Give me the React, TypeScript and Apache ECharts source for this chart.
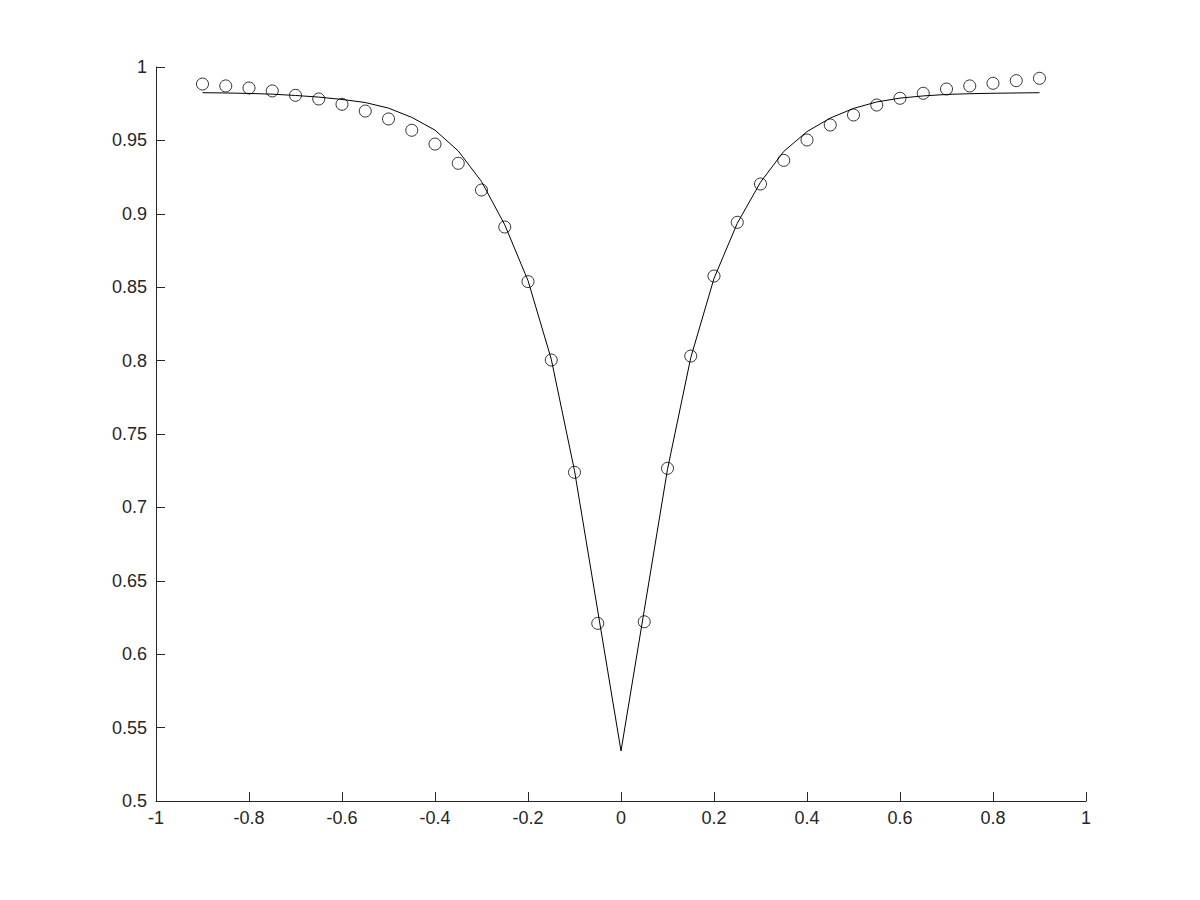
import React, { useEffect, useRef } from "react";
import * as echarts from "echarts";

const measuredX = [
  -0.9, -0.85, -0.8, -0.75, -0.7, -0.65, -0.6, -0.55, -0.5, -0.45, -0.4, -0.35,
  -0.3, -0.25, -0.2, -0.15, -0.1, -0.05, 0.05, 0.1, 0.15, 0.2, 0.25, 0.3, 0.35,
  0.4, 0.45, 0.5, 0.55, 0.6, 0.65, 0.7, 0.75, 0.8, 0.85, 0.9,
];
const measuredY = [
  0.9884, 0.9871, 0.9857, 0.9837, 0.9807, 0.9782, 0.9746, 0.97, 0.9646, 0.9569,
  0.9475, 0.9344, 0.9162, 0.891, 0.8538, 0.8004, 0.7239, 0.621, 0.6221, 0.7266,
  0.8031, 0.8576, 0.8942, 0.9203, 0.9364, 0.9503, 0.9605, 0.9673, 0.9741,
  0.9787, 0.9821, 0.985, 0.9871, 0.9889, 0.9907, 0.9923,
];

const fitX = [
  -0.9, -0.85, -0.8, -0.75, -0.7, -0.65, -0.6, -0.55, -0.5, -0.45, -0.4, -0.35,
  -0.3, -0.25, -0.2, -0.15, -0.1, -0.05, 0, 0.05, 0.1, 0.15, 0.2, 0.25, 0.3,
  0.35, 0.4, 0.45, 0.5, 0.55, 0.6, 0.65, 0.7, 0.75, 0.8, 0.85, 0.9,
];
const fitY = [
  0.9825, 0.9823, 0.982, 0.9815, 0.9806, 0.9795, 0.9779, 0.9758, 0.972, 0.9657,
  0.957, 0.9428, 0.922, 0.8925, 0.8545, 0.801, 0.725, 0.6295, 0.5341, 0.63,
  0.726, 0.802, 0.856, 0.8935, 0.9215, 0.9425, 0.956, 0.9652, 0.9718, 0.9762,
  0.9788, 0.9803, 0.9813, 0.9818, 0.9821, 0.9823, 0.9825,
];

const xMin = -1;
const xMax = 1;
const xStep = 0.2;
const yMin = 0.5;
const yMax = 1;
const yStep = 0.05;

const textColor = "#262626";
const font = "'Liberation Sans', Arial, Helvetica, sans-serif";

export default function App() {
  const ref = useRef<HTMLDivElement>(null);
  useEffect(() => {
    if (!ref.current) return;
    const chart = echarts.init(ref.current, null, { renderer: "svg" });
    const fmt = (v: number) => String(+v.toFixed(2));
    chart.setOption({
      animation: false,
      backgroundColor: "#ffffff",
      grid: { left: 156, right: 114, top: 67, bottom: 99 },
      xAxis: {
        type: "value",
        min: xMin,
        max: xMax,
        interval: xStep,
        axisLine: { show: true, onZero: false, lineStyle: { color: textColor, width: 1 } },
        axisTick: { show: true, inside: true, length: 9, lineStyle: { color: textColor, width: 1 } },
        axisLabel: {
          color: textColor,
          fontFamily: font,
          fontSize: 18,
          margin: 8,
          formatter: fmt,
        },
        splitLine: { show: false },
      },
      yAxis: {
        type: "value",
        min: yMin,
        max: yMax,
        interval: yStep,
        axisLine: { show: true, onZero: false, lineStyle: { color: textColor, width: 1 } },
        axisTick: { show: true, inside: true, length: 9, lineStyle: { color: textColor, width: 1 } },
        axisLabel: {
          color: textColor,
          fontFamily: font,
          fontSize: 18,
          margin: 9,
          formatter: fmt,
        },
        splitLine: { show: false },
      },
      series: [
        {
          type: "line",
          data: fitX.map((x, i) => [x, fitY[i]]),
          showSymbol: false,
          symbol: "none",
          smooth: false,
          lineStyle: { color: "#000000", width: 1 },
          z: 2,
        },
        {
          type: "scatter",
          data: measuredX.map((x, i) => [x, measuredY[i]]),
          symbol: "circle",
          symbolSize: 12,
          itemStyle: { color: "transparent", borderColor: "#000000", borderWidth: 1 },
          z: 3,
        },
      ],
    });
    return () => chart.dispose();
  }, []);
  return (
    <div
      ref={ref}
      style={{ position: "absolute", left: 0, top: 0, width: 1200, height: 900 }}
    />
  );
}
